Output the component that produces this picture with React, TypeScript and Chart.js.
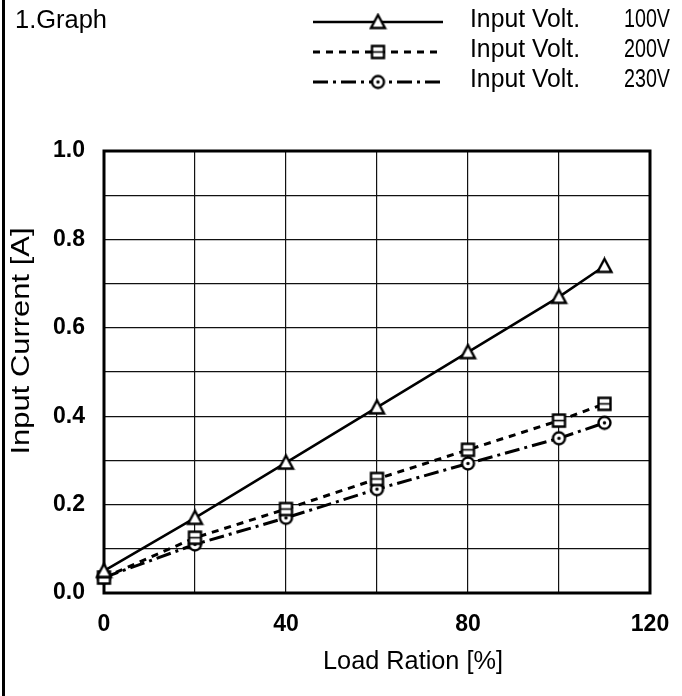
import { useEffect, useRef } from 'react';
import { Chart, registerables } from 'chart.js';

Chart.register(...registerables);

// ---- data ----
const loadRatio = [0, 20, 40, 60, 80, 100, 110];
const current100V = [0.05, 0.17, 0.295, 0.42, 0.545, 0.67, 0.74];
const current200V = [0.035, 0.125, 0.19, 0.258, 0.324, 0.39, 0.428];
const current230V = [0.035, 0.11, 0.17, 0.235, 0.293, 0.35, 0.385];
const seriesNames = ['Input Volt.', 'Input Volt.', 'Input Volt.'];
const seriesVolts = ['100V', '200V', '230V'];
const xTickLabels = [0, 40, 80, 120];
const yTickLabels = [0, 0.2, 0.4, 0.6, 0.8, 1.0];
const chartTitle = '1.Graph';
const xTitle = 'Load Ration [%]';
const yTitle = 'Input Current [A]';

const FONT = "'Liberation Sans', Arial, Helvetica, sans-serif";

type MarkerKind = 'triangle' | 'square' | 'circle';

function makeMarker(kind: MarkerKind): HTMLCanvasElement {
  const c = document.createElement('canvas');
  const s = 19;
  c.width = s;
  c.height = s;
  const ctx = c.getContext('2d')!;
  ctx.lineWidth = 2.4;
  ctx.strokeStyle = '#000';
  ctx.fillStyle = '#fff';
  if (kind === 'triangle') {
    ctx.beginPath();
    ctx.moveTo(9.5, 2.5);
    ctx.lineTo(16.5, 15.5);
    ctx.lineTo(2.5, 15.5);
    ctx.closePath();
    ctx.fill();
    ctx.stroke();
  } else if (kind === 'square') {
    ctx.beginPath();
    ctx.rect(3.5, 3.5, 12, 12);
    ctx.fill();
    ctx.stroke();
    ctx.lineWidth = 1.6;
    ctx.beginPath();
    ctx.moveTo(3.5, 9.5);
    ctx.lineTo(15.5, 9.5);
    ctx.stroke();
  } else {
    ctx.beginPath();
    ctx.arc(9.5, 9.5, 6, 0, Math.PI * 2);
    ctx.fill();
    ctx.stroke();
    ctx.fillStyle = '#000';
    ctx.beginPath();
    ctx.arc(9.5, 9.5, 1.7, 0, Math.PI * 2);
    ctx.fill();
  }
  return c;
}

function drawFitted(
  ctx: CanvasRenderingContext2D,
  text: string,
  x: number,
  y: number,
  font: string,
  width: number,
  align: CanvasTextAlign,
  rotate = 0
) {
  ctx.save();
  ctx.font = font;
  const m = ctx.measureText(text).width;
  const sx = width / m;
  ctx.translate(x, y);
  if (rotate) ctx.rotate(rotate);
  ctx.scale(sx, 1);
  ctx.fillStyle = '#000';
  ctx.textBaseline = 'middle';
  ctx.textAlign = align;
  ctx.fillText(text, 0, 0);
  ctx.restore();
}

export default function App() {
  const ref = useRef<HTMLCanvasElement | null>(null);

  useEffect(() => {
    if (!ref.current) return;
    const markers = [makeMarker('triangle'), makeMarker('square'), makeMarker('circle')];
    const dashes: number[][] = [[], [7, 6], [15, 5, 3, 5]];
    const widths = [2.5, 3, 3];
    const series = [current100V, current200V, current230V];

    const datasets = series.map((vals, i) => ({
      label: `${seriesNames[i]} ${seriesVolts[i]}`,
      data: loadRatio.map((x, j) => ({ x, y: vals[j] })),
      borderColor: '#000',
      backgroundColor: '#fff',
      borderWidth: widths[i],
      borderDash: dashes[i],
      pointStyle: markers[i],
      pointRadius: 8,
      pointHoverRadius: 8,
      tension: 0,
      fill: false,
      clip: false as any,
    }));

    const framePlugin = {
      id: 'frame',
      beforeDatasetsDraw(chart: any) {
        const { ctx, chartArea: a } = chart;
        ctx.save();
        ctx.strokeStyle = '#000';
        ctx.lineWidth = 3;
        ctx.strokeRect(a.left, a.top, a.right - a.left, a.bottom - a.top);
        ctx.restore();
      },
      afterDraw(chart: any) {
        const { ctx } = chart;
        ctx.save();
        // scanned page frame line on the left
        ctx.fillStyle = '#000';
        ctx.fillRect(2, 0, 3, chart.height);

        // header
        drawFitted(ctx, chartTitle, 15, 21, `25px ${FONT}`, 92, 'left');

        // legend
        const rowsY = [22, 52, 82];
        rowsY.forEach((ry, i) => {
          ctx.save();
          ctx.strokeStyle = '#000';
          ctx.lineWidth = widths[i];
          ctx.setLineDash(dashes[i]);
          ctx.beginPath();
          ctx.moveTo(313, ry);
          ctx.lineTo(443, ry);
          ctx.stroke();
          ctx.restore();
          const m = markers[i];
          ctx.drawImage(m, 378 - m.width / 2, ry - m.height / 2);
          drawFitted(ctx, seriesNames[i], 470, ry - 2, `25px ${FONT}`, 110, 'left');
          drawFitted(ctx, seriesVolts[i], 670, ry - 2, `25px ${FONT}`, 46, 'right');
        });

        // axis titles
        drawFitted(ctx, xTitle, 413, 662, `26px ${FONT}`, 180, 'center');
        drawFitted(ctx, yTitle, 22, 341, `26px ${FONT}`, 227, 'center', -Math.PI / 2);
        ctx.restore();
      },
    };

    const chart = new Chart(ref.current, {
      type: 'line',
      data: { datasets: datasets as any },
      options: {
        animation: false,
        responsive: false,
        maintainAspectRatio: false,
        layout: { padding: { left: 0, right: 32, top: 151, bottom: 0 } },
        plugins: {
          legend: { display: false },
          title: { display: false },
          tooltip: { enabled: false },
        },
        scales: {
          x: {
            type: 'linear',
            min: 0,
            max: 120,
            afterFit(scale: any) {
              scale.height = 103;
              scale.paddingRight = 0;
              scale.paddingLeft = 0;
            },
            ticks: {
              stepSize: 20,
              padding: 18,
              color: '#000',
              font: { family: FONT, size: 23, weight: 'bold' },
              maxRotation: 0,
              autoSkip: false,
              callback: (v: any) =>
                xTickLabels.some((t) => Math.abs(t - Number(v)) < 1e-6) ? String(v) : '',
            },
            grid: { color: '#111', lineWidth: 1.2, drawTicks: false },
            border: { display: false },
          },
          y: {
            type: 'linear',
            min: 0,
            max: 1,
            afterFit(scale: any) {
              scale.width = 104;
              scale.paddingTop = 0;
              scale.paddingBottom = 0;
            },
            ticks: {
              stepSize: 0.1,
              padding: 19,
              color: '#000',
              font: { family: FONT, size: 23, weight: 'bold' },
              autoSkip: false,
              callback: (v: any) =>
                yTickLabels.some((t) => Math.abs(t - Number(v)) < 1e-6)
                  ? Number(v).toFixed(1)
                  : '',
            },
            grid: { color: '#111', lineWidth: 1.2, drawTicks: false },
            border: { display: false },
          },
        },
      },
      plugins: [framePlugin],
    });
    return () => chart.destroy();
  }, []);

  return (
    <div style={{ position: 'absolute', left: 0, top: 0, width: 682, height: 696, background: '#fff' }}>
      <canvas ref={ref} width={682} height={696} style={{ display: 'block', width: 682, height: 696 }} />
    </div>
  );
}
